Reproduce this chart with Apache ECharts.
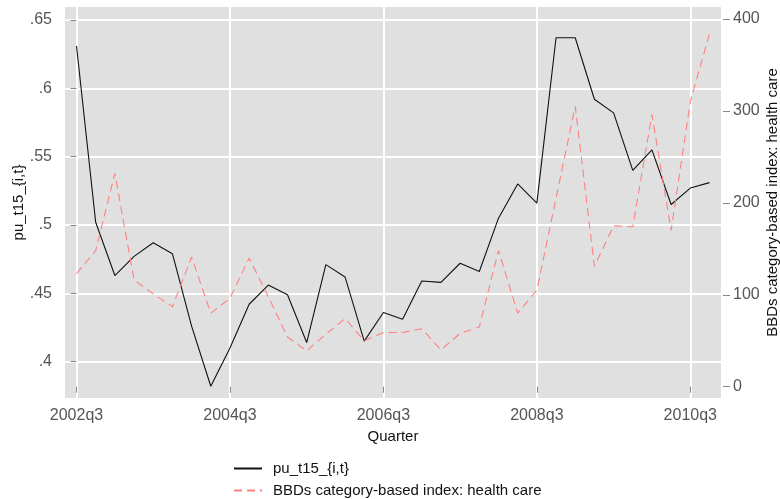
<!DOCTYPE html>
<html>
<head>
<meta charset="utf-8">
<script src="https://cdn.jsdelivr.net/npm/echarts@6/dist/echarts.min.js"></script>
<style>
html,body{margin:0;padding:0;background:#fff;}
#chart{width:780px;height:499px;}
</style>
</head>
<body>
<div id="chart"></div>
<script>
const quarters = ["2002q3","2002q4","2003q1","2003q2","2003q3","2003q4","2004q1","2004q2","2004q3","2004q4",
  "2005q1","2005q2","2005q3","2005q4","2006q1","2006q2","2006q3","2006q4","2007q1","2007q2",
  "2007q3","2007q4","2008q1","2008q2","2008q3","2008q4","2009q1","2009q2","2009q3","2009q4",
  "2010q1","2010q2","2010q3","2010q4"];
const puValues = [0.631,0.502,0.463,0.477,0.487,0.479,0.426,0.382,0.410,0.442,
  0.456,0.449,0.414,0.471,0.462,0.415,0.436,0.431,0.459,0.458,
  0.472,0.466,0.505,0.530,0.516,0.637,0.637,0.592,0.582,0.540,
  0.555,0.515,0.527,0.531];
const bbdValues = [123,148,232,116,101,87,141,80,96,140,
  98,54,39,57,74,50,59,59,63,40,
  58,65,148,80,105,205,305,131,175,174,
  296,170,310,384];
const leftTicks = [0.4,0.45,0.5,0.55,0.6,0.65];
const rightTicks = [0,100,200,300,400];
const xTicks = [0,8,16,24,32];

const chart = echarts.init(document.getElementById('chart'), null, {renderer:'canvas'});
const font = 'Liberation Sans, Arial, sans-serif';
const tickLabel = {color:'#555', fontSize:16, fontFamily:font};
const tickStyle = {color:'#888', width:1};
chart.setOption({
  animation:false,
  backgroundColor:'#fff',
  grid:{left:65,right:59,top:7,bottom:101,show:true,backgroundColor:'#e0e0e0',borderWidth:0,
    containLabel:false, outerBoundsMode:'none'},
  xAxis:{
    type:'value', min:-0.6, max:33.6, offset:2,
    name:'Quarter', nameLocation:'middle', nameGap:27,
    nameTextStyle:{color:'#111',fontSize:15,fontFamily:font},
    axisLine:{show:false},
    axisTick:{show:true, length:6, customValues:xTicks, lineStyle:tickStyle},
    axisLabel:Object.assign({customValues:xTicks, margin:8, formatter:v=>quarters[Math.round(v)]}, tickLabel),
    splitLine:{show:true, lineStyle:{color:'#fff', width:2}}
  },
  yAxis:[{
    type:'value', min:0.3734, max:0.6595, position:'left', offset:2,
    name:'pu_t15_{i,t}', nameLocation:'middle', nameGap:37, nameRotate:90, nameMoveOverlap:false,
    nameTextStyle:{color:'#111',fontSize:15,fontFamily:font},
    axisLine:{show:false},
    axisTick:{show:true, length:6, customValues:leftTicks, lineStyle:tickStyle},
    axisLabel:Object.assign({customValues:leftTicks, margin:11, formatter:v=>String(+v.toFixed(2)).replace(/^0/,'')}, tickLabel),
    splitLine:{show:true, lineStyle:{color:'#fff', width:2}}
  },{
    type:'value', min:-12.3, max:413, position:'right', offset:2,
    name:'BBDs category-based index: health care', nameLocation:'middle', nameGap:42, nameRotate:90, nameMoveOverlap:false,
    nameTextStyle:{color:'#111',fontSize:15,fontFamily:font},
    axisLine:{show:false},
    axisTick:{show:true, length:7, customValues:rightTicks, lineStyle:tickStyle},
    axisLabel:Object.assign({customValues:rightTicks, margin:10}, tickLabel),
    splitLine:{show:false}
  }],
  legend:{
    orient:'vertical', left:233, top:461, itemGap:7, itemWidth:28, itemHeight:14, padding:0,
    itemStyle:{opacity:0},
    textStyle:{color:'#111',fontSize:15,fontFamily:font, padding:[0,0,0,6]},
    data:['pu_t15_{i,t}','BBDs category-based index: health care']
  },
  series:[{
    name:'pu_t15_{i,t}', type:'line', yAxisIndex:0, symbol:'none',
    data:puValues.map((v,i)=>[i,v]),
    lineStyle:{color:'#111', width:1.1}, itemStyle:{color:'#111'}
  },{
    name:'BBDs category-based index: health care', type:'line', yAxisIndex:1, symbol:'none',
    data:bbdValues.map((v,i)=>[i,v]),
    lineStyle:{color:'#ff8080', width:1.1, type:[8,5]}, itemStyle:{color:'#ff8080'}
  }]
});
</script>
</body>
</html>
